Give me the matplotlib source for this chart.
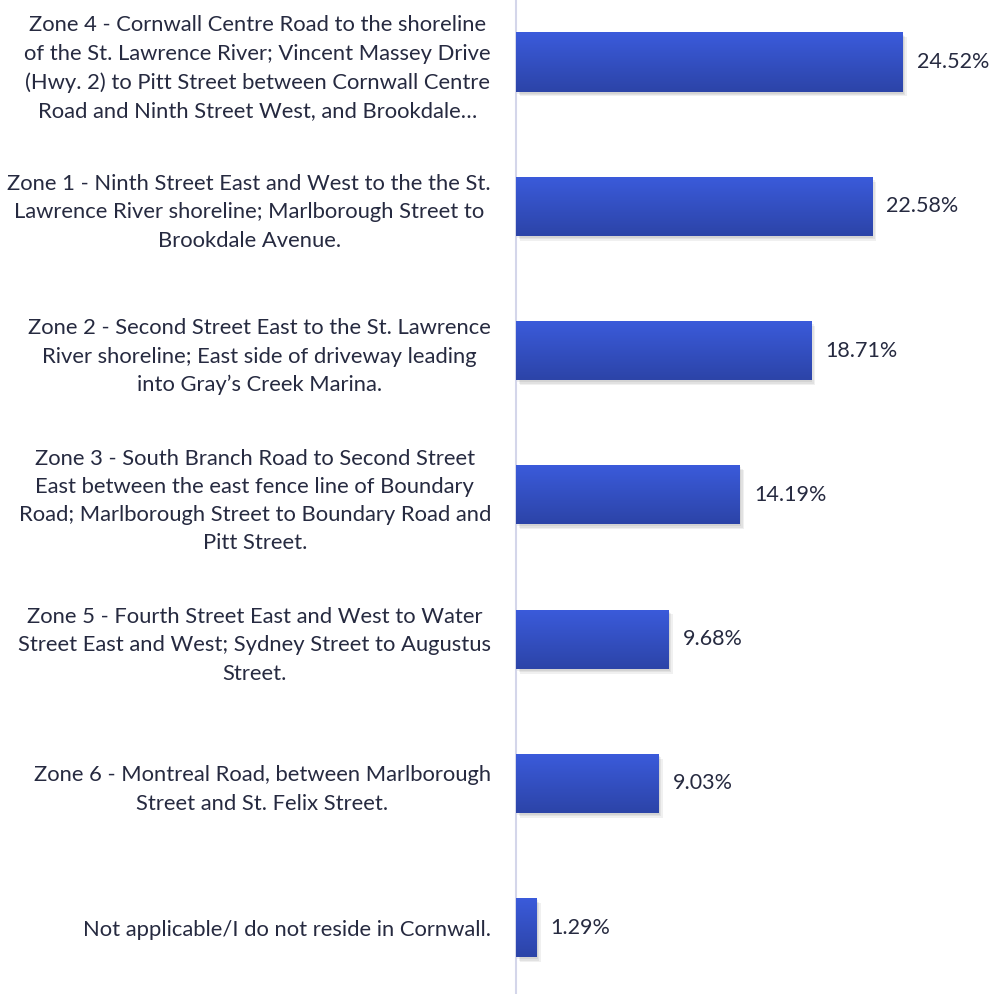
import matplotlib.pyplot as plt
import matplotlib.transforms as mtransforms
from matplotlib.colors import LinearSegmentedColormap
import numpy as np

zones = [
    "Zone 4 - Cornwall Centre Road to the shoreline\nof the St. Lawrence River; Vincent Massey Drive\n(Hwy. 2) to Pitt Street between Cornwall Centre\nRoad and Ninth Street West, and Brookdale\u2026",
    "Zone 1 - Ninth Street East and West to the the St.\nLawrence River shoreline; Marlborough Street to\nBrookdale Avenue.",
    "Zone 2 - Second Street East to the St. Lawrence\nRiver shoreline; East side of driveway leading\ninto Gray\u2019s Creek Marina.",
    "Zone 3 - South Branch Road to Second Street\nEast between the east fence line of Boundary\nRoad; Marlborough Street to Boundary Road and\nPitt Street.",
    "Zone 5 - Fourth Street East and West to Water\nStreet East and West; Sydney Street to Augustus\nStreet.",
    "Zone 6 - Montreal Road, between Marlborough\nStreet and St. Felix Street.",
    "Not applicable/I do not reside in Cornwall.",
]
share = [24.52, 22.58, 18.71, 14.19, 9.68, 9.03, 1.29]

plt.rcParams['font.family'] = ['Lato', 'DejaVu Sans']
text_col = '#262a40'

fig = plt.figure(figsize=(10.08, 9.94), dpi=100)
ax = fig.add_axes([516/1008, 0, 1 - 516/1008, 1])

pos = np.arange(len(zones))
h = 0.41

# soft shadow under each bar
for k in range(3):
    ax.barh(pos, share, height=h, color='#000000', alpha=0.06,
            transform=mtransforms.offset_copy(ax.transData, fig=fig,
                                              x=1 + k, y=-1.5 - k, units='points'),
            zorder=1)

bars = ax.barh(pos, share, height=h, color='none', zorder=2)

# vertical gradient fill, lighter on top
grad = np.linspace(0, 1, 64).reshape(-1, 1)
cmap = LinearSegmentedColormap.from_list('g', ['#3b5bdb', '#2c44a8'])
for b in bars:
    x0, y0 = b.get_x(), b.get_y()
    w, hh = b.get_width(), b.get_height()
    im = ax.imshow(grad, cmap=cmap, aspect='auto', zorder=3,
                   extent=[x0, x0 + w, y0, y0 + hh], origin='lower')
    im.set_clip_path(b)

for p, v in zip(pos, share):
    ax.text(v + 0.9, p, f"{v:.2f}%", va='center', ha='left',
            fontsize=15.5, color=text_col)

ax.set_xlim(0, 31.2)
ax.set_ylim(6.46, -0.43)
ax.set_yticks(pos)
ax.set_yticklabels(zones, fontsize=15.8, color=text_col, ma='center',
                   linespacing=1.52)
ax.tick_params(axis='y', length=0, pad=18)
ax.set_xticks([])
for s in ['top', 'right', 'bottom']:
    ax.spines[s].set_visible(False)
ax.spines['left'].set_color('#d4d6ea')
ax.spines['left'].set_linewidth(1.5)

fig.savefig('out.png', dpi=100)
